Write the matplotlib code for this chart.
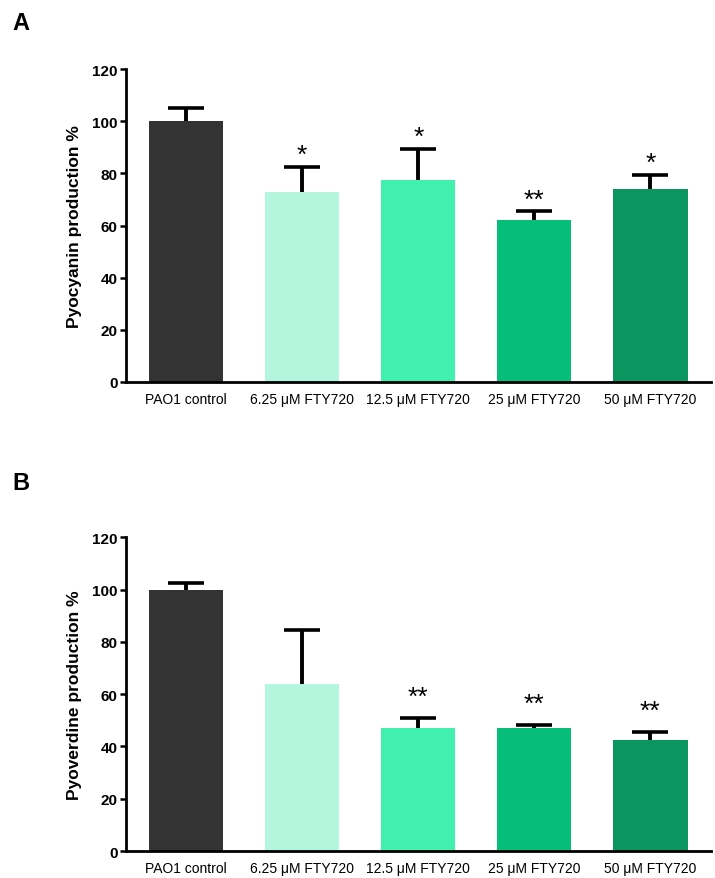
import matplotlib
matplotlib.use("Agg")
import matplotlib.pyplot as plt
import numpy as np

categories = ["PAO1 control", "6.25 \u03bcM FTY720", "12.5 \u03bcM FTY720", "25 \u03bcM FTY720", "50 \u03bcM FTY720"]
pyocyanin = [100, 73, 77.5, 62, 74]
pyocyanin_err = [5, 9.5, 12, 3.5, 5.5]
pyocyanin_sig = ["", "*", "*", "**", "*"]
pyoverdine = [100, 64, 47, 47, 42.5]
pyoverdine_err = [2.5, 20.5, 4, 1.3, 3]
pyoverdine_sig = ["", "", "**", "**", "**"]
yticks = [0, 20, 40, 60, 80, 100, 120]
colors = ["#333333", "#b3f5dd", "#42f0ae", "#06be77", "#0b9660"]

plt.rcParams['font.family'] = ['Liberation Sans', 'DejaVu Sans']

fig = plt.figure(figsize=(7.15, 8.79), dpi=100)

def panel(rect, vals, errs, sigs, ylabel, letter, letter_y, star_gap):
    ax = fig.add_axes(rect)
    x = np.arange(len(vals))
    ax.bar(x, vals, width=0.64, color=colors, edgecolor='none', zorder=2)
    eb = ax.errorbar(x, vals, yerr=[np.zeros(len(errs)), errs], fmt='none',
                     ecolor='black', elinewidth=2.8, capsize=13, capthick=2.6, zorder=1)
    # keep only the upper caps
    caps = eb[1]
    if len(caps) == 2:
        caps[0].remove()
    for xi, v, e, s in zip(x, vals, errs, sigs):
        if s:
            ax.text(xi, v + e + star_gap, s, ha='center', va='baseline', fontsize=19)
    ax.set_xlim(-0.52, 4.52)
    ax.set_ylim(0, 120)
    ax.set_yticks(yticks)
    ax.set_xticks(x)
    ax.set_xticklabels(categories, fontsize=10)
    ax.tick_params(axis='x', length=0, pad=7)
    ax.tick_params(axis='y', length=4, width=1.8, pad=2, labelsize=11)
    for lab in ax.get_yticklabels():
        lab.set_fontweight('bold')
    for sp in ['top', 'right']:
        ax.spines[sp].set_visible(False)
    for sp in ['left', 'bottom']:
        ax.spines[sp].set_linewidth(2.0)
    ax.set_ylabel(ylabel, fontsize=12.5, fontweight='bold', labelpad=7)
    fig.text(12/715, letter_y, letter, fontsize=17, fontweight='bold', ha='left', va='center')
    return ax

panel([0.176, 0.5643, 0.818, 0.356], pyocyanin, pyocyanin_err, pyocyanin_sig,
      "Pyocyanin production %", "A", 1 - 23/879, 1.8)
panel([0.176, 0.0307, 0.818, 0.357], pyoverdine, pyoverdine_err, pyoverdine_sig,
      "Pyoverdine production %", "B", 1 - 484/879, 5.3)

fig.savefig("out.png", dpi=100)
